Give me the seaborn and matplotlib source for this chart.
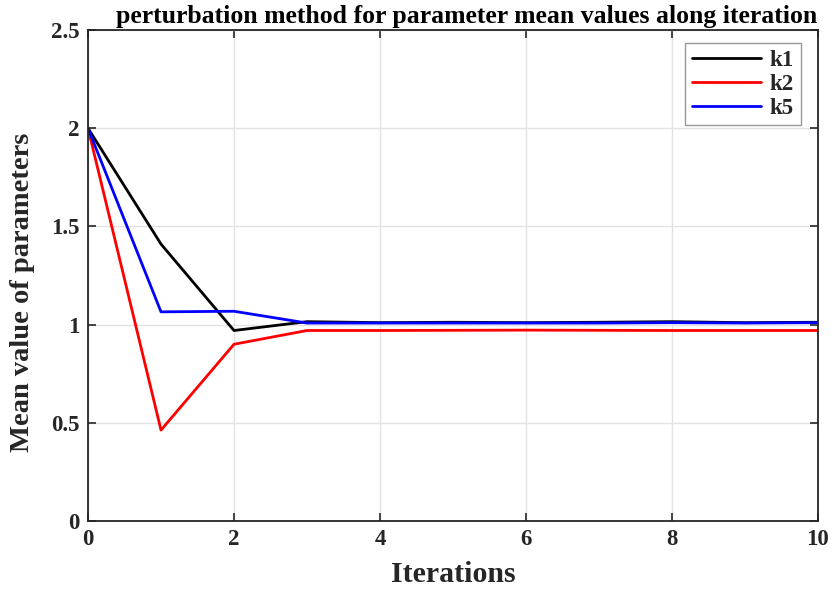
import numpy as np
import pandas as pd
import matplotlib
matplotlib.use("Agg")
import matplotlib.pyplot as plt
import seaborn as sns

iterations = list(range(11))
k1 = [2.0, 1.41, 0.97, 1.015, 1.01, 1.012, 1.01, 1.012, 1.015, 1.01, 1.012]
k2 = [2.0, 0.463, 0.90, 0.97, 0.97, 0.971, 0.972, 0.971, 0.97, 0.97, 0.97]
k5 = [2.0, 1.065, 1.068, 1.008, 1.008, 1.008, 1.008, 1.008, 1.01, 1.008, 1.01]
series_names = ["k1", "k2", "k5"]
series_colors = ["#000000", "#ff0000", "#0000ff"]

df = pd.DataFrame({
    "Iterations": iterations * 3,
    "value": k1 + k2 + k5,
    "param": [n for n in series_names for _ in iterations],
})

sns.set_theme(style="white")
plt.rcParams["font.family"] = ["Liberation Serif", "DejaVu Serif"]
plt.rcParams["font.weight"] = "bold"

fig = plt.figure(figsize=(8.35, 5.92), dpi=100)
ax = fig.add_axes([0.1054, 0.1199, 0.8742, 0.8294])

sns.lineplot(data=df, x="Iterations", y="value", hue="param",
             palette=dict(zip(series_names, series_colors)),
             linewidth=2.0, ax=ax, legend=True)

ax.set_xlim(0, 10)
ax.set_ylim(0, 2.5)
ax.set_xticks(np.arange(0, 11, 2))
ax.set_yticks([0, 0.5, 1, 1.5, 2, 2.5])
ax.set_yticklabels(["0", "0.5", "1", "1.5", "2", "2.5"])
ax.grid(True, color="#e3e3e3", linewidth=1.0)
ax.set_axisbelow(True)
for s in ax.spines.values():
    s.set_visible(True)
    s.set_color("#262626")
    s.set_linewidth(1.3)
ax.tick_params(axis="both", which="both", direction="in", length=6, width=1.2,
               top=True, right=True, bottom=True, left=True,
               labelsize=16.5, colors="#262626", pad=6)
for lab in ax.get_xticklabels() + ax.get_yticklabels():
    lab.set_fontweight("bold")

ax.set_xlabel("Iterations", fontsize=21.5, fontweight="bold", color="#262626", labelpad=8)
ax.set_ylabel("Mean value of parameters", fontsize=20.5, fontweight="bold", color="#262626")
ax.yaxis.set_label_coords(-0.073, 0.466)
ax.set_title("perturbation method for parameter mean values along iteration",
             fontsize=18.5, fontweight="bold", color="#000000", pad=5, x=0.518)

leg = ax.legend(loc="upper right", frameon=True, fancybox=False, fontsize=16.5,
                handlelength=3.0, handletextpad=0.4, borderpad=0.3, labelspacing=0.12,
                borderaxespad=0.0, bbox_to_anchor=(0.9767, 0.9735), title=None)
leg.get_frame().set_edgecolor("#7f7f7f")
leg.get_frame().set_linewidth(1.0)
for t in leg.get_texts():
    t.set_fontweight("bold")

fig.savefig("out.png", dpi=100)
